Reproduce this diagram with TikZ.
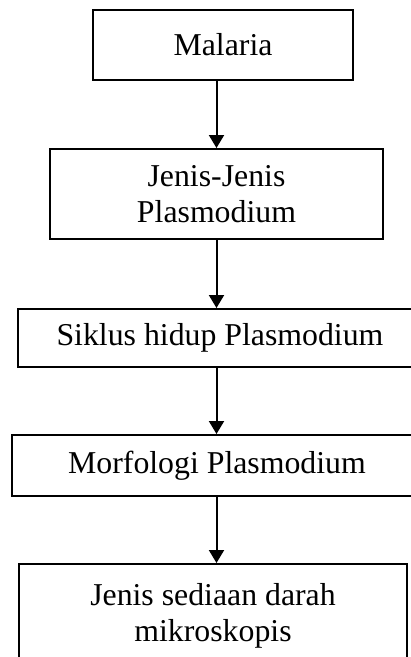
\documentclass[tikz,border=0pt]{standalone}
\usepackage{fontspec}
\setmainfont{Liberation Serif}
\usetikzlibrary{arrows.meta}
\begin{document}
\begin{tikzpicture}[x=1pt,y=-1pt,
  box/.style={draw, line width=2pt, inner sep=0pt, align=center,
    font=\fontsize{31.8}{36.5}\selectfont},
  arr/.style={line width=2pt, -{Triangle[length=13pt,width=15pt]}}]
\useasboundingbox (0,0) rectangle (411,657);
\clip (0,0) rectangle (411,657);
\node[box, minimum width=260pt, minimum height=70pt] (b1) at (223,45) {Malaria};
\node[box, minimum width=333pt, minimum height=90pt] (b2) at (216.5,194) {Jenis-Jenis\\Plasmodium};
\node[box, minimum width=404pt, minimum height=58pt] (b3) at (220,338) {Siklus hidup Plasmodium};
\node[box, minimum width=410pt, minimum height=61pt] (b4) at (217,465.5) {Morfologi Plasmodium};
\node[box, minimum width=388pt, minimum height=104pt] (b5) at (213,616) {Jenis sediaan darah\\mikroskopis};
\draw[arr] (b2.north |- b1.south) -- (b2.north);
\draw[arr] (b2.south) -- (b2.south |- b3.north);
\draw[arr] (b2.south |- b3.south) -- (b2.south |- b4.north);
\draw[arr] (b2.south |- b4.south) -- (b2.south |- b5.north);
\end{tikzpicture}
\end{document}
